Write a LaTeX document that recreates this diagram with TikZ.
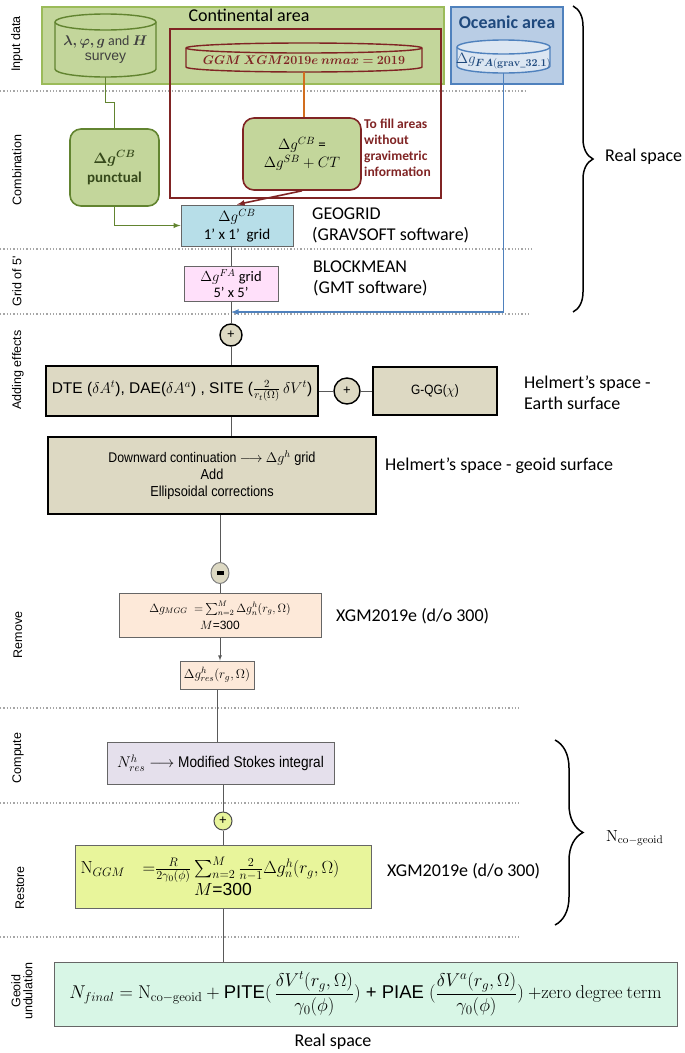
\documentclass[tikz,border=0pt]{standalone}
\usepackage{fix-cm}
\usepackage[no-math]{fontspec}
\usepackage{amsmath,bm}
\setmainfont{Carlito}
\newfontfamily\arial{Liberation Sans}
\newfontfamily\arialn[FakeStretch=0.88]{Liberation Sans}
\usetikzlibrary{arrows, shapes.geometric, decorations.pathreplacing}

\definecolor{contfill}{RGB}{195,214,155}
\definecolor{contline}{RGB}{155,187,89}
\definecolor{darkgreen}{RGB}{98,132,48}
\definecolor{darkred}{RGB}{128,36,36}
\definecolor{oceanfill}{RGB}{185,205,229}
\definecolor{oceanline}{RGB}{79,129,189}
\definecolor{oceandark}{RGB}{31,73,125}
\definecolor{dbfill}{RGB}{220,230,242}
\definecolor{gridfill}{RGB}{183,222,232}
\definecolor{pinkfill}{RGB}{255,224,250}
\definecolor{tanfill}{RGB}{221,217,195}
\definecolor{peachfill}{RGB}{253,233,217}
\definecolor{lavfill}{RGB}{229,224,236}
\definecolor{limefill}{RGB}{232,245,155}
\definecolor{mintfill}{RGB}{216,246,230}
\definecolor{orangeline}{RGB}{210,110,30}

% drum outline: [style] centre x, top y, bottom y, half width, end radius
\newcommand{\drum}[6][]{%
    \path[#1] (#2-#5,#3+#6) -- (#2-#5,#4-#6)
        arc[start angle=180, end angle=360, x radius=#5pt, y radius=#6pt]
        -- (#2+#5,#3+#6)
        arc[start angle=0, end angle=180, x radius=#5pt, y radius=#6pt] -- cycle;
    \path[#1, fill=none] (#2-#5,#3+#6)
        arc[start angle=180, end angle=360, x radius=#5pt, y radius=#6pt];}

\begin{document}
\begin{tikzpicture}[x=1pt, y=-1pt,
                    every node/.style={inner sep=0pt, align=center},
                    area/.style={rectangle, line width=1.6pt},
                    dbase/.style={draw, line width=1.4pt},
                    roundbox/.style={
                        rectangle, rounded corners=11pt,
                        draw, line width=1.6pt, fill=contfill
                        },
                    proc/.style={rectangle, draw=gray!80!black, line width=1pt},
                    tanbox/.style={proc, draw=black, line width=1.4pt, fill=tanfill},
                    sumnode/.style={
                        circle, draw=black, line width=1.4pt, fill=tanfill,
                        font=\arial\fontsize{13}{13}\selectfont
                        },
                    note/.style={anchor=west, align=left, font=\fontsize{18}{21}\selectfont},
                    phase/.style={rotate=90, font=\arial\fontsize{12.5}{12}\selectfont},
                    divider/.style={dotted, line width=1.3pt, gray!70},
                    spine/.style={gray!70!black, line width=0.8pt}
                    ]
\useasboundingbox (0,0) rectangle (685,1053);

% phases on the left
\node[phase] (pinput) at (17,44) {Input data};
\node[phase] (pcomb) at (17,170) {Combination};
\node[phase] (pgrid) at (17,281) {Grid of 5'};
\node[phase] (padd) at (18,370) {Adding effects};
\node[phase] (premove) at (18,635) {Remove};
\node[phase] (pcompute) at (18,758) {Compute};
\node[phase] (prestore) at (20,888) {Restore};
\node[phase] (pgeoid) at (22,991) {Geoid\\undulation};

\foreach \y/\len in {91/526, 249/532, 314/530, 708/519, 803/519, 937/519}
    \draw[divider] (0,\y) -- (\len,\y);

% input data
\node[area, draw=contline, fill=contfill, minimum width=402pt, minimum height=77pt] (conti) at (243,45.5) {};
\node[font=\fontsize{18}{18}\selectfont] (contitle) at (249,15) {Continental area};
\node[area, draw=oceanline, fill=oceanfill, minimum width=112pt, minimum height=77pt] (ocean) at (507,45.5) {};
\node[font=\bfseries\fontsize{18}{18}\selectfont, text=oceandark] (oceantitle) at (507,22) {Oceanic area};
\drum[dbase, draw=oceanline, fill=dbfill]{503.5}{40}{73}{46.5}{7}
\node[minimum width=93pt, minimum height=24pt, text=oceandark, font=\fontsize{15}{15}\selectfont] (oceandb) at (503.5,61)
    {$\Delta g_{\bm{FA}\mathbf{(grav\_32.1)}}$};
\drum[dbase, draw=darkgreen, fill=contfill]{105.5}{14}{77}{50.5}{8}
\node[minimum width=101pt, minimum height=54pt, text=black!75, font=\fontsize{14}{15}\selectfont] (survey) at (105.5,50)
    {$\bm{\lambda, \varphi, g}$ and $\bm{H}$\\{\arial survey}};
\node[area, draw=darkred, minimum width=271pt, minimum height=169pt] (ggmframe) at (305.5,113.5) {};
\drum[dbase, draw=darkred, fill=contfill]{304}{43}{72}{118}{5}
\node[minimum width=236pt, minimum height=24pt, text=darkred, font=\fontsize{12.5}{12.5}\selectfont] (ggm) at (304,60)
    {$\bm{GGM\ XGM2019e\ nmax = 2019}$};

% combination
\node[roundbox, draw=darkred, minimum width=118pt, minimum height=72pt, font=\fontsize{15}{18}\selectfont] (cbsb) at (302,154)
    {$\Delta g^{CB}$ =\\$\Delta g^{SB} + CT$};
\node[note, text=darkred, font=\bfseries\fontsize{13.5}{16}\selectfont] (fillnote) at (364,148)
    {To fill areas\\without\\gravimetric\\information};
\node[roundbox, draw=darkgreen, minimum width=89pt, minimum height=77pt,
      text=darkgreen!55!black, font=\bfseries\fontsize{15}{19}\selectfont] (punct) at (114.5,167.5)
    {$\bm{\Delta g^{CB}}$\\punctual};
\node[proc, fill=gridfill, minimum width=112pt, minimum height=41pt, font=\fontsize{15}{18}\selectfont] (geogrid) at (237,225.5)
    {$\Delta g^{CB}$\\1' x 1'\ \ grid};
\node[note] (geonote) at (312,225) {GEOGRID\\(GRAVSOFT software)};

% grid of 5'
\node[proc, fill=pinkfill, minimum width=94pt, minimum height=35pt, font=\fontsize{14.5}{16}\selectfont] (grid5) at (231,283.5)
    {$\Delta g^{FA}$ grid\\5' x 5'};
\node[note] (blocknote) at (313,278) {BLOCKMEAN\\(GMT software)};

% adding effects
\node[sumnode, minimum size=22pt] (plusA) at (231,335) {+};
\node[tanbox, minimum width=272pt, minimum height=50pt, font=\arial\fontsize{15.5}{18}\selectfont] (dte) at (182,391)
    {DTE ($\delta A^t$), DAE($\delta A^a$) , SITE ($\frac{2}{r_t(\Omega)}\,\delta V^t$)};
\node[sumnode, minimum size=26pt] (plusB) at (347,391) {+};
\node[tanbox, minimum width=124pt, minimum height=48pt, font=\arialn\fontsize{13.5}{16}\selectfont] (gqg) at (435,391)
    {G-QG($\chi$)};
\node[note] (helmA) at (524,393) {Helmert’s space -\\Earth surface};
\node[tanbox, minimum width=328pt, minimum height=77pt, font=\arialn\fontsize{14.5}{17}\selectfont] (dc) at (212,475.5)
    {{\fontsize{14}{17}\selectfont Downward continuation $\longrightarrow$ $\Delta g^h$} grid\\Add\\Ellipsoidal corrections};
\node[note] (helmB) at (385,466) {Helmert’s space - geoid surface};

% remove
\node[ellipse, draw=gray, line width=1pt, fill=tanfill, minimum width=18pt, minimum height=21pt] (minus) at (220,573)
    {\rule{7pt}{4pt}};
\node[proc, fill=peachfill, minimum width=202pt, minimum height=44pt, font=\fontsize{12}{17}\selectfont] (mgg) at (220,615)
    {$\Delta g_{MGG}\;\;{=}\sum_{n=2}^{M}\Delta g_n^h(r_g,\Omega)$\\$M${\arial =300}};
\node[note] (xgmA) at (336,616) {XGM2019e (d/o 300)};
\node[proc, fill=peachfill, minimum width=74pt, minimum height=28pt, font=\fontsize{13}{15}\selectfont] (res) at (217,675)
    {$\Delta g^h_{res}(r_g,\Omega)$};

% compute
\node[proc, fill=lavfill, minimum width=227pt, minimum height=42pt, font=\arialn\fontsize{15.5}{18}\selectfont] (stokes) at (220.5,763)
    {$N^h_{res}\longrightarrow$ Modified Stokes integral};

% restore
\node[sumnode, draw=gray!60!black, line width=1pt, fill=limefill, minimum size=18pt] (plusC) at (223,821) {+};
\node[proc, fill=limefill, minimum width=296pt, minimum height=63pt, font=\fontsize{17.5}{21}\selectfont] (ggmrest) at (223,876.5)
    {$\mathrm{N}_{GGM}\quad{=}\frac{R}{2\gamma_0(\phi)}\sum_{n=2}^{M}\frac{2}{n-1}\Delta g_n^h(r_g,\Omega)$\hspace*{26pt}\\$M${\arial =300}};
\node[note] (xgmB) at (387,871) {XGM2019e (d/o 300)};

% geoid undulation
\node[proc, fill=mintfill, minimum width=623pt, minimum height=64pt, font=\fontsize{18.5}{20}\selectfont] (final) at (365.5,994)
    {$N_{final} = \mathrm{N}_{\mathrm{co-geoid}} + \text{\arial PITE}(\,\dfrac{\delta V^t(r_g,\Omega)}{\gamma_0(\phi)})
     \text{\arial\ + PIAE }(\dfrac{\delta V^a(r_g,\Omega)}{\gamma_0(\phi)})\ {+}\mathrm{zero\ degree\ term}$};
\node[font=\fontsize{18}{18}\selectfont] (realB) at (333,1042) {Real space};

% braces
\draw[decorate, decoration={brace, amplitude=20pt}, line width=1.5pt] (573,6) -- (573,312);
\node[note] (realA) at (605,157) {Real space};
\draw[decorate, decoration={brace, amplitude=28pt}, line width=1.5pt] (555,740) -- (555,925);
\node[note, font=\fontsize{16}{16}\selectfont] (cogeoid) at (606,838) {$\mathrm{N}_{\mathrm{co-geoid}}$};

% connectors
\draw[darkgreen, line width=1.4pt] (survey.south) -- ++(0,25) -| (punct.north);
\draw[darkgreen, line width=1.4pt, -latex] (punct.south) |- (geogrid.west);
\draw[orangeline, line width=1.6pt] (ggm.south) -- (ggm.south |- cbsb.north);
\draw[darkred, line width=1.6pt, -latex] (cbsb.south) -- (geogrid.north);
\coordinate (oceanin) at (231,312);
\draw[oceanline, line width=1.6pt, -latex] (oceandb.south) |- (oceanin);
\draw[spine] (plusA |- geogrid.south) -- (plusA |- grid5.north);
\draw[spine] (plusA |- grid5.south) -- (plusA.north);
\draw[spine] (plusA.south) -- (plusA |- dte.north);
\draw[spine] (dte.east) -- (plusB.west);
\draw[spine] (plusB.east) -- (gqg.west);
\draw[spine] (plusA |- dte.south) -- (plusA |- dc.north);
\draw[spine] (minus |- dc.south) -- (minus.north);
\draw[spine] (minus.south) -- (minus |- mgg.north);
\draw[spine, -latex] (minus |- mgg.south) -- (minus |- res.north);
\draw[spine] (res.south) -- (res.south |- stokes.north);
\draw[spine] (plusC |- stokes.south) -- (plusC.north);
\draw[spine] (plusC.south) -- (plusC |- ggmrest.north);
\draw[spine] (plusC |- ggmrest.south) -- (plusC |- final.north);
\end{tikzpicture}
\end{document}
